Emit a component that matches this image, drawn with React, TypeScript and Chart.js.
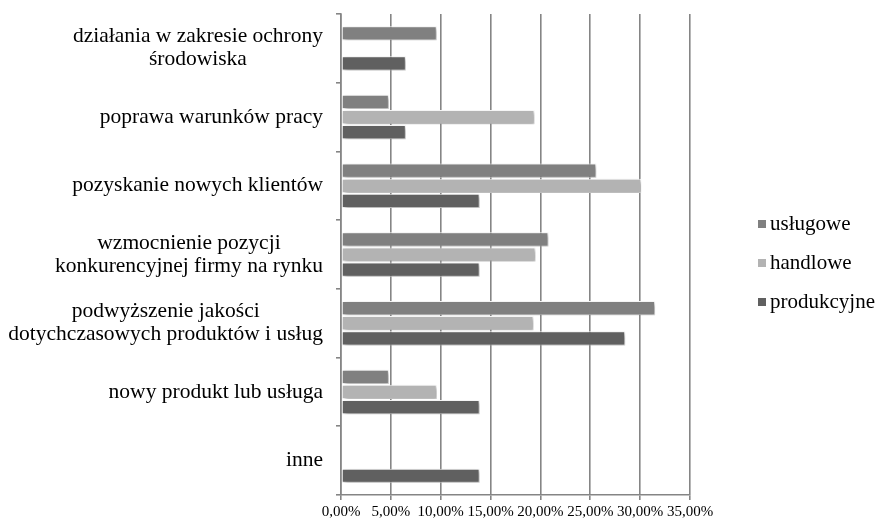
import React, { useEffect, useRef } from 'react';
import { Chart, registerables } from 'chart.js';

Chart.register(...registerables);

const categories: string[][] = [
  ['działania w zakresie ochrony', 'środowiska'],
  ['poprawa warunków pracy'],
  ['pozyskanie nowych klientów'],
  ['wzmocnienie pozycji', 'konkurencyjnej firmy na rynku'],
  ['podwyższenie jakości', 'dotychczasowych produktów i usług'],
  ['nowy produkt lub usługa'],
  ['inne'],
];

const uslugowe = [9.6, 4.8, 25.6, 20.8, 31.5, 4.8, 0];
const handlowe = [0, 19.4, 30.1, 19.5, 19.3, 9.6, 0];
const produkcyjne = [6.5, 6.5, 13.9, 13.9, 28.5, 13.9, 13.9];

const seriesNames = ['usługowe', 'handlowe', 'produkcyjne'];
const seriesColors = ['#808080', '#b3b3b3', '#606060'];

const xMin = 0;
const xMax = 35;
const xStep = 5;

const SERIF = "'Liberation Serif', 'Times New Roman', serif";

export default function App() {
  const ref = useRef<HTMLCanvasElement | null>(null);

  useEffect(() => {
    document.body.style.margin = '0';
    const canvas = ref.current;
    if (!canvas) return;

    const shadowPlugin = {
      id: 'barShadow',
      beforeDatasetsDraw(chart: any) {
        const c = chart.ctx;
        c.save();
        c.shadowColor = 'rgba(0,0,0,0.35)';
        c.shadowBlur = 4;
        c.shadowOffsetX = 2;
        c.shadowOffsetY = 2;
      },
      afterDatasetsDraw(chart: any) {
        chart.ctx.restore();
      },
    };

    const labelPlugin = {
      id: 'catLabels',
      afterDraw(chart: any) {
        const c = chart.ctx;
        const y = chart.scales.y;
        const right = chart.chartArea.left - 18;
        const lh = 23;
        c.save();
        c.font = `21.5px ${SERIF}`;
        c.fillStyle = '#000';
        c.textBaseline = 'middle';
        c.textAlign = 'center';
        categories.forEach((lines, i) => {
          const cy = y.getPixelForTick(i);
          const w = Math.max(...lines.map((l) => c.measureText(l).width));
          const cx = right - w / 2;
          const y0 = cy - ((lines.length - 1) * lh) / 2;
          lines.forEach((l, j) => c.fillText(l, cx, y0 + j * lh));
        });
        c.restore();
      },
    };

    const legendPlugin = {
      id: 'customLegend',
      afterDraw(chart: any) {
        const c = chart.ctx;
        c.save();
        c.font = `21px ${SERIF}`;
        c.textBaseline = 'middle';
        c.textAlign = 'left';
        chart.data.datasets.forEach((ds: any, i: number) => {
          const yy = 224 + i * 39;
          c.fillStyle = ds.backgroundColor;
          c.fillRect(758, yy - 4, 8, 8);
          c.fillStyle = '#000';
          c.fillText(ds.label, 770, yy);
        });
        c.restore();
      },
    };

    const chart = new Chart(canvas, {
      type: 'bar',
      data: {
        labels: categories.map((l) => l.join(' ')),
        datasets: [
          { label: seriesNames[0], data: uslugowe, backgroundColor: seriesColors[0] },
          { label: seriesNames[1], data: handlowe, backgroundColor: seriesColors[1] },
          { label: seriesNames[2], data: produkcyjne, backgroundColor: seriesColors[2] },
        ].map((d) => ({
          ...d,
          borderColor: '#ffffff',
          borderWidth: 1,
          borderSkipped: false as any,
          categoryPercentage: 0.66,
          barPercentage: 0.94,
        })),
      },
      options: {
        indexAxis: 'y',
        animation: false,
        responsive: false,
        layout: { padding: { top: 14, right: 190, left: 0, bottom: 0 } },
        plugins: {
          legend: { display: false },
          tooltip: { enabled: false },
        },
        scales: {
          x: {
            type: 'linear',
            min: xMin,
            max: xMax,
            ticks: {
              stepSize: xStep,
              autoSkip: false,
              maxRotation: 0,
              padding: 3,
              color: '#000',
              font: { family: SERIF, size: 15 },
              callback: (v: any) => Number(v).toFixed(2).replace('.', ',') + '%',
            },
            grid: { color: '#858585', lineWidth: 1.6, tickLength: 5, drawTicks: true },
            border: { display: true, color: '#858585', width: 1.6 },
            afterFit: (s: any) => {
              s.height = 27;
            },
          },
          y: {
            type: 'category',
            ticks: { display: false },
            grid: {
              drawOnChartArea: false,
              drawTicks: true,
              tickLength: 5,
              color: '#858585',
              lineWidth: 1.6,
              offset: true,
            },
            border: { display: true, color: '#858585', width: 1.6 },
            afterFit: (s: any) => {
              s.width = 341;
            },
          },
        },
      },
      plugins: [shadowPlugin, labelPlugin, legendPlugin],
    } as any);

    return () => chart.destroy();
  }, []);

  return (
    <div style={{ width: 880, height: 522 }}>
      <canvas ref={ref} width={880} height={522} style={{ display: 'block' }} />
    </div>
  );
}
